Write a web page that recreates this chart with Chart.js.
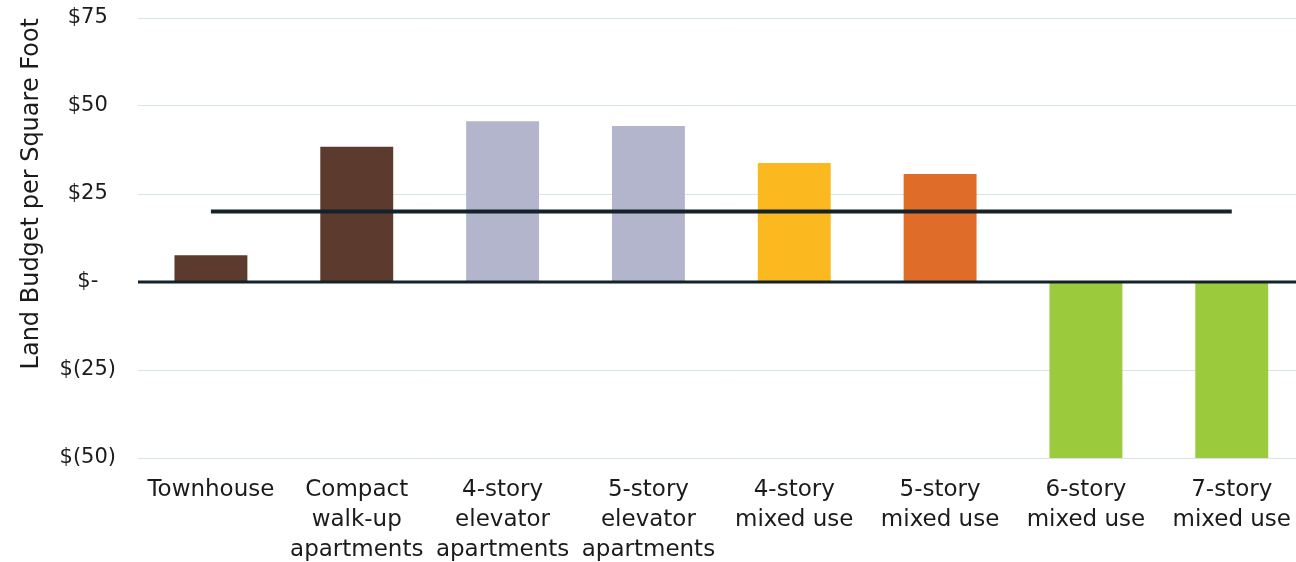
<!DOCTYPE html>
<html>
<head>
<meta charset="utf-8">
<script src="https://cdn.jsdelivr.net/npm/chart.js@4"></script>
<style>
html,body{margin:0;padding:0;background:#fff;overflow:hidden;}
#wrap{width:1308px;height:562px;position:relative;}
</style>
</head>
<body>
<div id="wrap"><canvas id="c"></canvas></div>
<script>
const categories = [
  ["Townhouse"],
  ["Compact", "walk-up", "apartments"],
  ["4-story", "elevator", "apartments"],
  ["5-story", "elevator", "apartments"],
  ["4-story", "mixed use"],
  ["5-story", "mixed use"],
  ["6-story", "mixed use"],
  ["7-story", "mixed use"]
];
const landBudget = [7.6, 38.4, 45.7, 44.3, 33.8, 30.7, -50, -50];
const threshold = [20, 20, 20, 20, 20, 20, 20, 20];
const barColors = ["#5C3A2E", "#5C3A2E", "#B2B5CB", "#B2B5CB", "#FBB81F", "#E06C29", "#9BCB3C", "#9BCB3C"];
const yMin = -50, yMax = 75, yStep = 25;
const yTitle = "Land Budget per Square Foot";

const FONT = "'DejaVu Sans', sans-serif";
const TXT = "#1b1b1b";

const zeroLine = {
  id: 'zeroLine',
  afterDatasetsDraw(chart) {
    const y = chart.scales.y.getPixelForValue(0);
    const a = chart.chartArea;
    const ctx = chart.ctx;
    ctx.save();
    ctx.strokeStyle = '#13222B';
    ctx.lineWidth = 3;
    ctx.beginPath();
    ctx.moveTo(a.left, y);
    ctx.lineTo(a.right, y);
    ctx.stroke();
    ctx.restore();
  }
};

new Chart(document.getElementById('c'), {
  data: {
    labels: categories,
    datasets: [
      {
        type: 'line',
        data: threshold,
        borderColor: '#13222B',
        borderWidth: 4,
        pointRadius: 0,
        fill: false,
        order: 0
      },
      {
        type: 'bar',
        data: landBudget,
        backgroundColor: barColors,
        borderWidth: 0,
        barPercentage: 0.5,
        categoryPercentage: 1.0,
        order: 1
      }
    ]
  },
  options: {
    responsive: true,
    maintainAspectRatio: false,
    animation: false,
    layout: { padding: { top: 0, right: 0, bottom: 0, left: 17 } },
    plugins: { legend: { display: false }, tooltip: { enabled: false } },
    scales: {
      x: {
        grid: { display: false, drawTicks: false },
        border: { display: false },
        ticks: {
          color: TXT,
          font: { family: FONT, size: 23, lineHeight: 1.3 },
          maxRotation: 0,
          autoSkip: false,
          padding: 17
        },
        afterFit(scale) { scale.height = 104; }
      },
      y: {
        min: yMin,
        max: yMax,
        grid: { color: '#D6E4EA', lineWidth: 1, drawTicks: false },
        border: { display: false },
        ticks: {
          stepSize: yStep,
          color: TXT,
          font: { family: FONT, size: 21 },
          crossAlign: 'center',
          padding: 22,
          callback: v => v === 0 ? '$-' : (v < 0 ? '$(' + Math.abs(v) + ')' : '$' + v)
        },
        title: {
          display: true,
          text: yTitle,
          align: 'end',
          color: TXT,
          font: { family: FONT, size: 24 },
          padding: { top: 0, bottom: 6 }
        },
        afterFit(scale) {
          scale.width = 121;
          scale.paddingTop = 18;
          scale.paddingBottom = 0;
        }
      }
    }
  },
  plugins: [zeroLine]
});
</script>
</body>
</html>
